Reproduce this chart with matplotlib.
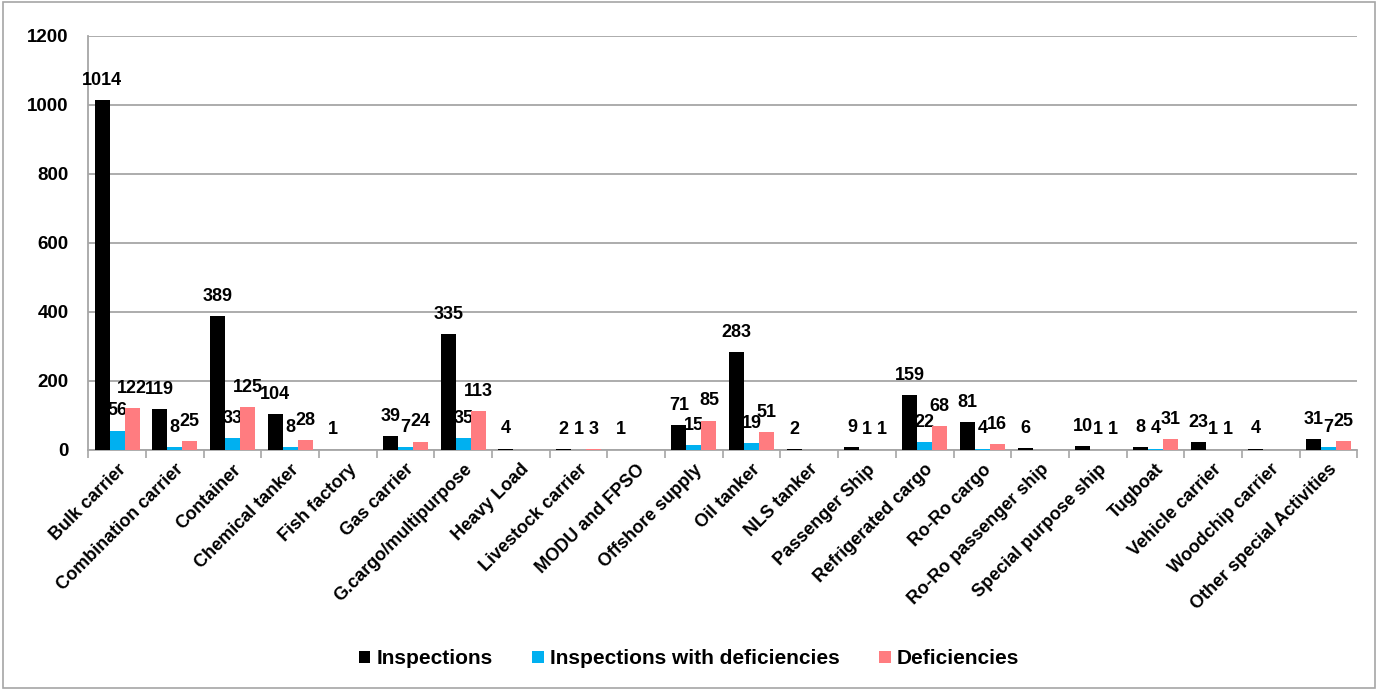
import numpy as np
import matplotlib.pyplot as plt
from matplotlib.patches import Rectangle

categories = ["Bulk carrier", "Combination carrier", "Container", "Chemical tanker",
              "Fish factory", "Gas carrier", "G.cargo/multipurpose", "Heavy Load",
              "Livestock carrier", "MODU and FPSO", "Offshore supply", "Oil tanker",
              "NLS tanker", "Passenger Ship", "Refrigerated cargo", "Ro-Ro cargo",
              "Ro-Ro passenger ship", "Special purpose ship", "Tugboat",
              "Vehicle carrier", "Woodchip carrier", "Other special Activities"]
inspections = [1014, 119, 389, 104, 1, 39, 335, 4, 2, 1, 71, 283, 2, 9, 159, 81, 6, 10, 8, 23, 4, 31]
insp_with_def = [56, 8, 33, 8, 0, 7, 35, 0, 1, 0, 15, 19, 0, 1, 22, 4, 0, 1, 4, 1, 0, 7]
deficiencies = [122, 25, 125, 28, 0, 24, 113, 0, 3, 0, 85, 51, 0, 1, 68, 16, 0, 1, 31, 1, 0, 25]

series = [("Inspections", inspections, "#000000"),
          ("Inspections with deficiencies", insp_with_def, "#00B0F0"),
          ("Deficiencies", deficiencies, "#FF7C80")]

plt.rcParams['font.family'] = ['Liberation Sans', 'DejaVu Sans']
plt.rcParams['font.weight'] = 'bold'

fig = plt.figure(figsize=(13.78, 6.9), dpi=100)
ax = fig.add_axes([0.064, 0.348, 0.921, 0.600])

x = np.arange(len(categories))
w = 0.26
for i, (name, vals, col) in enumerate(series):
    pos = x + (i - 1) * w
    ax.bar(pos, vals, width=w, color=col, label=name, zorder=3)
    for px, v in zip(pos, vals):
        if v:
            ax.annotate(str(v), (px, v), xytext=(0, 8), textcoords='offset points',
                        ha='center', va='bottom', fontsize=13, fontweight='bold')

ax.set_xlim(-0.5, len(categories) - 0.5)
ax.set_ylim(0, 1200)
ax.set_yticks(range(0, 1201, 200))
ax.yaxis.grid(True, color='#a6a6a6', linewidth=1.3, zorder=0)
ax.tick_params(axis='y', length=0, labelsize=13.5, pad=14)
ax.set_xticks(x)
ax.set_xticklabels(categories, rotation=45, ha='right', rotation_mode='anchor', fontsize=13)
ax.tick_params(axis='x', length=0, pad=8)
ax.set_xticks(np.arange(len(categories) + 1) - 0.5, minor=True)
ax.tick_params(axis='x', which='minor', length=6, color='#a6a6a6', width=1.2)
for s in ['top', 'right']:
    ax.spines[s].set_visible(False)
for s in ['left', 'bottom']:
    ax.spines[s].set_color('#a6a6a6')
    ax.spines[s].set_linewidth(1.3)

fig.legend(loc='center', bbox_to_anchor=(0.5, 0.045), ncol=3, frameon=False,
           fontsize=15, handlelength=0.55, handleheight=0.55, handletextpad=0.3,
           columnspacing=1.9)

fig.patches.append(Rectangle((0.002, 0.003), 0.996, 0.994, transform=fig.transFigure,
                             fill=False, edgecolor='#a6a6a6', linewidth=1.2))

fig.savefig('out.png', dpi=100)
